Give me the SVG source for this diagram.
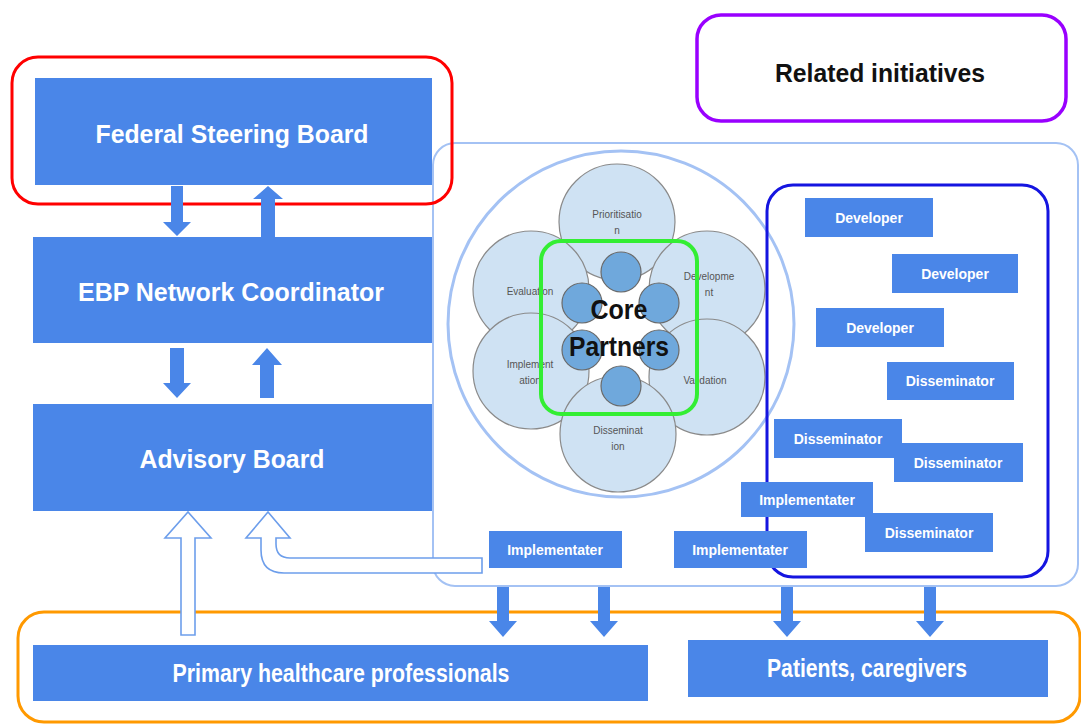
<svg xmlns="http://www.w3.org/2000/svg" width="1081" height="725" viewBox="0 0 1081 725">
  <style>
    .box { fill: #4a86e8; }
    .big { font-family: "Liberation Sans", Arial, sans-serif; font-weight: bold; font-size: 26px; fill: #ffffff; text-anchor: middle; }
    .role { font-family: "Liberation Sans", Arial, sans-serif; font-weight: bold; font-size: 14px; fill: #ffffff; text-anchor: middle; }
    .petal { fill: #cfe2f3; stroke: #8a8a8a; stroke-width: 1.2; }
    .core { fill: #6fa8dc; stroke: #6a6a6a; stroke-width: 1.2; }
    .plabel { font-family: "Liberation Sans", Arial, sans-serif; font-size: 10px; fill: #555555; text-anchor: middle; }
    .solid { fill: #4a86e8; }
    .hollow { fill: #ffffff; stroke: #6d9eeb; stroke-width: 1.6; stroke-linejoin: miter; }
  </style>
  <rect width="1081" height="725" fill="#ffffff"/>

  <!-- frames -->
  <g id="frames" fill="none">
    <rect id="audience-frame" x="18" y="612" width="1062" height="110" rx="26" stroke="#ff9900" stroke-width="3"/>
    <rect id="network-frame" x="433" y="143" width="645" height="443" rx="22" stroke="#a4c2f4" stroke-width="2"/>
    <rect id="governance-frame" x="12" y="57" width="440" height="147" rx="26" stroke="#ff0000" stroke-width="3"/>
  </g>

  <g id="related-initiatives">
    <rect x="697" y="15" width="369" height="106" rx="24" fill="#ffffff" stroke="#9900ff" stroke-width="3.5"/>
    <text x="880" y="82" class="big" style="fill:#111111" textLength="210" lengthAdjust="spacingAndGlyphs">Related initiatives</text>
  </g>

  <g id="federal-steering-board">
    <rect class="box" x="35" y="78" width="397" height="107"/>
    <text x="232" y="143" class="big" textLength="273" lengthAdjust="spacingAndGlyphs">Federal Steering Board</text>
  </g>

  <g id="ebp-network-coordinator">
    <rect class="box" x="33" y="237" width="399" height="106"/>
    <text x="231" y="301" class="big" textLength="306" lengthAdjust="spacingAndGlyphs">EBP Network Coordinator</text>
  </g>

  <g id="advisory-board">
    <rect class="box" x="33" y="404" width="399" height="107"/>
    <text x="232" y="468" class="big" textLength="185" lengthAdjust="spacingAndGlyphs">Advisory Board</text>
  </g>

  <g id="primary-healthcare-professionals">
    <rect class="box" x="33" y="645" width="615" height="56"/>
    <text x="341" y="682" class="big" textLength="337" lengthAdjust="spacingAndGlyphs">Primary healthcare professionals</text>
  </g>

  <g id="patients-caregivers">
    <rect class="box" x="688" y="640" width="360" height="57"/>
    <text x="867" y="677" class="big" textLength="200" lengthAdjust="spacingAndGlyphs">Patients, caregivers</text>
  </g>

  <!-- core network cycle -->
  <g id="core-network">
    <circle cx="621" cy="324" r="173" fill="#ffffff" stroke="#a4c2f4" stroke-width="3"/>
    <g id="phases">
      <circle class="petal" cx="617" cy="222" r="58"/>
      <circle class="petal" cx="531" cy="289" r="58"/>
      <circle class="petal" cx="707" cy="289" r="58"/>
      <circle class="petal" cx="531" cy="371" r="58"/>
      <circle class="petal" cx="707" cy="377" r="58"/>
      <circle class="petal" cx="618" cy="434" r="58"/>
      <text class="plabel" x="617" y="218">Prioritisatio</text>
      <text class="plabel" x="617" y="234">n</text>
      <text class="plabel" x="530" y="295">Evaluation</text>
      <text class="plabel" x="709" y="280">Developme</text>
      <text class="plabel" x="709" y="296">nt</text>
      <text class="plabel" x="530" y="368">Implement</text>
      <text class="plabel" x="530" y="384">ation</text>
      <text class="plabel" x="705" y="384">Validation</text>
      <text class="plabel" x="618" y="434">Disseminat</text>
      <text class="plabel" x="618" y="450">ion</text>
    </g>
    <g id="core-partners">
      <circle class="core" cx="621" cy="272" r="20"/>
      <circle class="core" cx="582" cy="303" r="20"/>
      <circle class="core" cx="659" cy="303" r="20"/>
      <circle class="core" cx="582" cy="350" r="20"/>
      <circle class="core" cx="659" cy="350" r="20"/>
      <circle class="core" cx="621" cy="386" r="20"/>
      <rect x="541" y="241" width="156" height="173" rx="20" fill="none" stroke="#33ee33" stroke-width="4"/>
      <text x="619" y="319" style="font-family:'Liberation Sans',Arial,sans-serif;font-weight:bold;font-size:27px;fill:#111111;text-anchor:middle" textLength="57" lengthAdjust="spacingAndGlyphs">Core</text>
      <text x="619" y="356" style="font-family:'Liberation Sans',Arial,sans-serif;font-weight:bold;font-size:27px;fill:#111111;text-anchor:middle" textLength="100" lengthAdjust="spacingAndGlyphs">Partners</text>
    </g>
  </g>

  <!-- contributors -->
  <rect id="contributors-frame" x="767" y="185" width="281" height="392" rx="26" fill="none" stroke="#1515e0" stroke-width="3"/>

  <g id="developer-1"><rect class="box" x="805" y="198" width="128" height="39"/><text class="role" x="869" y="223">Developer</text></g>
  <g id="developer-2"><rect class="box" x="892" y="254" width="126" height="39"/><text class="role" x="955" y="279">Developer</text></g>
  <g id="developer-3"><rect class="box" x="816" y="308" width="128" height="39"/><text class="role" x="880" y="333">Developer</text></g>
  <g id="disseminator-1"><rect class="box" x="887" y="362" width="127" height="38"/><text class="role" x="950" y="386">Disseminator</text></g>
  <g id="disseminator-2"><rect class="box" x="774" y="419" width="128" height="39"/><text class="role" x="838" y="444">Disseminator</text></g>
  <g id="disseminator-3"><rect class="box" x="894" y="443" width="129" height="39"/><text class="role" x="958" y="468">Disseminator</text></g>
  <g id="implementater-1"><rect class="box" x="741" y="482" width="132" height="35"/><text class="role" x="807" y="505">Implementater</text></g>
  <g id="disseminator-4"><rect class="box" x="865" y="513" width="128" height="39"/><text class="role" x="929" y="538">Disseminator</text></g>
  <g id="implementater-2"><rect class="box" x="674" y="531" width="133" height="37"/><text class="role" x="740" y="555">Implementater</text></g>
  <g id="implementater-3"><rect class="box" x="489" y="531" width="133" height="37"/><text class="role" x="555" y="555">Implementater</text></g>

  <!-- connectors -->
  <g id="connectors">
    <!-- steering board <-> coordinator -->
    <path class="solid" d="M171 186 H183 V222 H191 L177 236 L163 222 H171 Z"/>
    <path class="solid" d="M268 186 L283 199 H275 V237 H261 V199 H253 Z"/>
    <!-- coordinator <-> advisory board -->
    <path class="solid" d="M170 348 H184 V383 H191 L177 398 L163 383 H170 Z"/>
    <path class="solid" d="M267 348 L282 365 H274 V398 H260 V365 H252 Z"/>
    <!-- network -> audiences -->
    <path class="solid" d="M497 587 H509 V621 H517 L503 637 L489 621 H497 Z"/>
    <path class="solid" d="M598 587 H610 V621 H618 L604 637 L590 621 H598 Z"/>
    <path class="solid" d="M781 587 H793 V621 H801 L787 637 L773 621 H781 Z"/>
    <path class="solid" d="M924 587 H936 V621 H944 L930 637 L916 621 H924 Z"/>
    <!-- feedback to advisory board -->
    <path class="hollow" d="M181 635 V538 H165 L188 512 L211 538 H195 V635 Z"/>
    <path class="hollow" d="M482 558 H290 Q276 558 276 544 V538 H290 L268 512 L246 538 H261 V550 Q261 573 284 573 H482 Z"/>
  </g>
</svg>
